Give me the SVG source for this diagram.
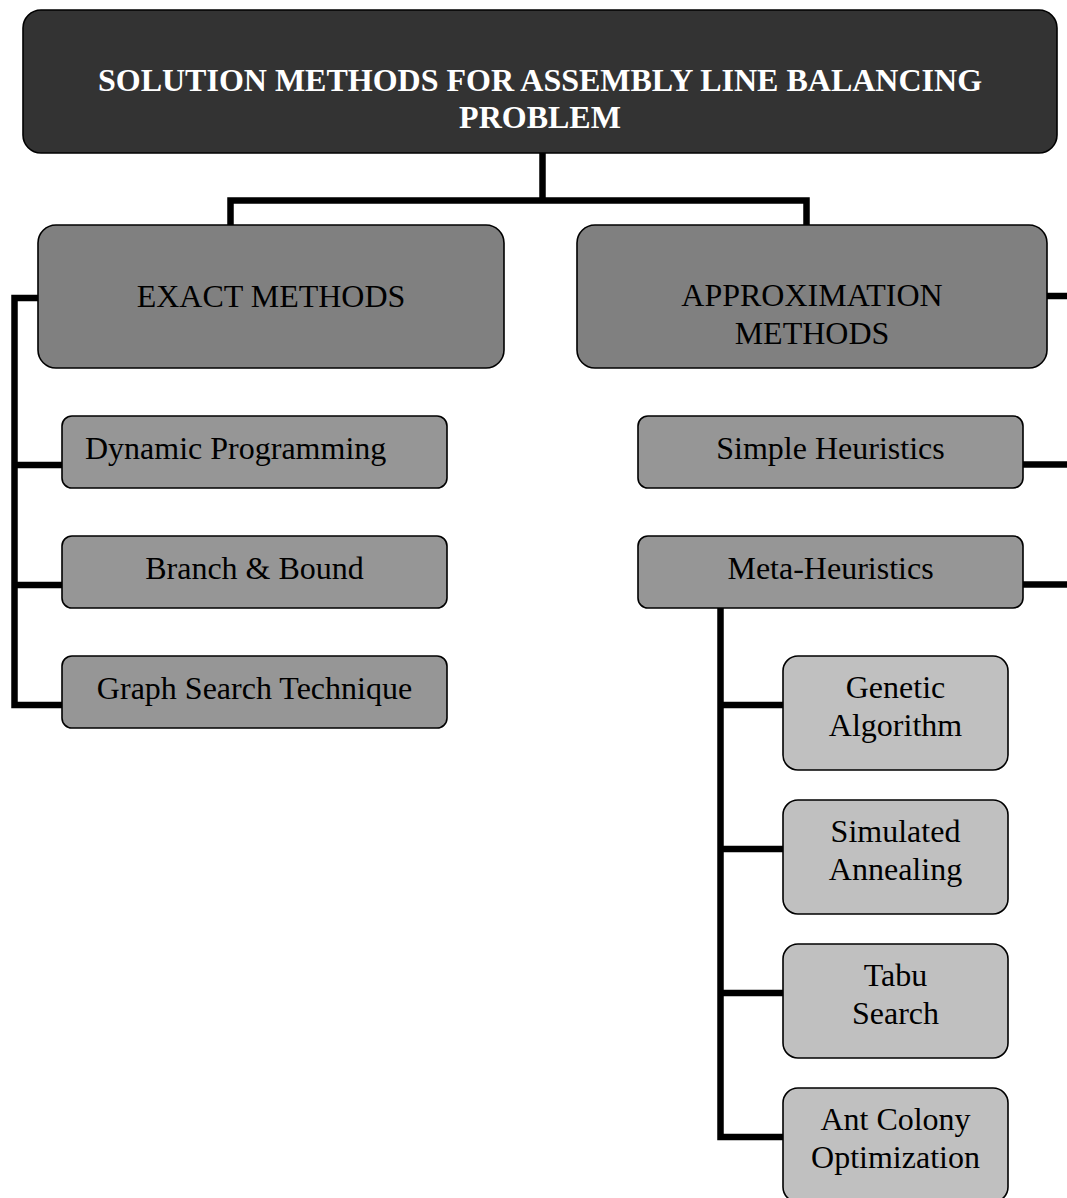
<svg xmlns="http://www.w3.org/2000/svg" width="1067" height="1198" viewBox="0 0 1067 1198">
  <style>
    text { font-family: "Liberation Serif", "Times New Roman", serif; font-size: 32px; text-anchor: middle; fill: #000; }
    .title { font-weight: bold; fill: #fff; }
    .box { stroke: #000; stroke-width: 1.6; }
    .root { fill: #333333; }
    .lvl1 { fill: #808080; }
    .lvl2 { fill: #969696; }
    .lvl3 { fill: #c0c0c0; }
    .conn { fill: none; stroke: #000; stroke-width: 6.5; stroke-linejoin: miter; stroke-linecap: butt; }
  </style>

  <!-- connectors -->
  <g id="connectors">
    <path class="conn" d="M542.5,153 V200.5"/>
    <path class="conn" d="M230.5,225 V200.5 H806.5 V225"/>
    <path class="conn" d="M38,298 H14.5 V705 H62"/>
    <path class="conn" d="M14.5,465 H62"/>
    <path class="conn" d="M14.5,585 H62"/>
    <path class="conn" d="M1047,296 H1067"/>
    <path class="conn" d="M1023,464.5 H1067"/>
    <path class="conn" d="M1023,584.5 H1067"/>
    <path class="conn" d="M720.5,608 V1137 H783"/>
    <path class="conn" d="M720.5,705 H783"/>
    <path class="conn" d="M720.5,849 H783"/>
    <path class="conn" d="M720.5,993 H783"/>
  </g>

  <!-- root -->
  <g id="root">
    <rect class="box root" x="23" y="10" width="1034" height="143" rx="18"/>
    <text class="title" x="540" y="91">SOLUTION METHODS FOR ASSEMBLY LINE BALANCING</text>
    <text class="title" x="540" y="128">PROBLEM</text>
  </g>

  <!-- first level -->
  <g id="exact-methods">
    <rect class="box lvl1" x="38" y="225" width="466" height="143" rx="18"/>
    <text x="271" y="307">EXACT METHODS</text>
  </g>
  <g id="approximation-methods">
    <rect class="box lvl1" x="577" y="225" width="470" height="143" rx="18"/>
    <text x="812" y="306">APPROXIMATION</text>
    <text x="812" y="344">METHODS</text>
  </g>

  <!-- exact methods children -->
  <g id="dynamic-programming">
    <rect class="box lvl2" x="62" y="416" width="385" height="72" rx="10"/>
    <text x="85" y="459" style="text-anchor:start">Dynamic Programming</text>
  </g>
  <g id="branch-and-bound">
    <rect class="box lvl2" x="62" y="536" width="385" height="72" rx="10"/>
    <text x="254.5" y="579">Branch &amp; Bound</text>
  </g>
  <g id="graph-search">
    <rect class="box lvl2" x="62" y="656" width="385" height="72" rx="10"/>
    <text x="254.5" y="699">Graph Search Technique</text>
  </g>

  <!-- approximation methods children -->
  <g id="simple-heuristics">
    <rect class="box lvl2" x="638" y="416" width="385" height="72" rx="10"/>
    <text x="830.5" y="459">Simple Heuristics</text>
  </g>
  <g id="meta-heuristics">
    <rect class="box lvl2" x="638" y="536" width="385" height="72" rx="10"/>
    <text x="830.5" y="579">Meta-Heuristics</text>
  </g>

  <!-- meta-heuristics children -->
  <g id="genetic-algorithm">
    <rect class="box lvl3" x="783" y="656" width="225" height="114" rx="15"/>
    <text x="895.5" y="698">Genetic</text>
    <text x="895.5" y="736">Algorithm</text>
  </g>
  <g id="simulated-annealing">
    <rect class="box lvl3" x="783" y="800" width="225" height="114" rx="15"/>
    <text x="895.5" y="842">Simulated</text>
    <text x="895.5" y="880">Annealing</text>
  </g>
  <g id="tabu-search">
    <rect class="box lvl3" x="783" y="944" width="225" height="114" rx="15"/>
    <text x="895.5" y="986">Tabu</text>
    <text x="895.5" y="1024">Search</text>
  </g>
  <g id="ant-colony">
    <rect class="box lvl3" x="783" y="1088" width="225" height="114" rx="15"/>
    <text x="895.5" y="1130">Ant Colony</text>
    <text x="895.5" y="1168">Optimization</text>
  </g>
</svg>
